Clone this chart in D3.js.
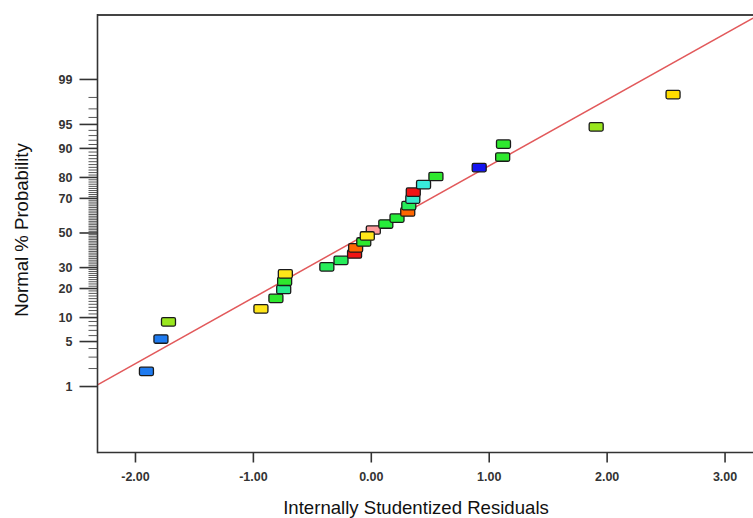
<!DOCTYPE html>
<html>
<head>
<meta charset="utf-8">
<script src="https://cdn.jsdelivr.net/npm/d3@7"></script>
<style>
  html, body { margin: 0; padding: 0; background: #fff; }
  svg { display: block; }
</style>
</head>
<body>
<svg id="chart" width="753" height="518"></svg>
<script>
// ---------- data ----------
const residuals = [-1.907, -1.784, -1.720, -0.936, -0.809, -0.743, -0.735, -0.729,
  -0.377, -0.257, -0.142, -0.133, -0.064, -0.034, 0.017, 0.123, 0.218, 0.309,
  0.318, 0.352, 0.356, 0.443, 0.548, 0.915, 1.114, 1.121, 1.907, 2.559];
const probabilities = [1.8, 5.4, 8.9, 12.5, 16.1, 19.6, 23.2, 26.8, 30.4, 33.9,
  37.5, 41.1, 44.6, 48.2, 51.8, 55.4, 58.9, 62.5, 66.1, 69.6, 73.2, 76.8, 80.4,
  83.9, 87.5, 91.1, 94.6, 98.2];
const pointColors = ["#1f7bf0", "#1f7bf0", "#99e61e", "#ffe61a", "#2ee82e", "#27eb8c",
  "#2ee82e", "#ffe61a", "#26ec5a", "#26ec5a", "#f01414", "#ff6600", "#2ee82e",
  "#ffe61a", "#ff9b9b", "#26ec3a", "#26ec3a", "#ff6600", "#26ec5a", "#38eacc",
  "#f01414", "#38eadc", "#2ee82e", "#1414f0", "#2ee82e", "#2ee82e", "#99e61e", "#ffdd00"];
const drawOrder = [0,1,2,3,4,5,6,7,8,9,10,11,12,14,13,15,16,17,18,19,20,21,22,23,24,25,26,27];
const xTicks = [-2, -1, 0, 1, 2, 3];
const yMajorTicks = [1, 5, 10, 20, 30, 50, 70, 80, 90, 95, 99];
const yMinorTicks = d3.range(1, 100).filter(v => !yMajorTicks.includes(v));
const xDomain = [-2.322, 3.237];
const zDomain = [-3.326, 3.303];
const fitIntercept = 0.02;
const fitSlope = 1.0;
const xTitle = "Internally Studentized Residuals";
const yTitle = "Normal % Probability";

// ---------- helpers ----------
function probit(p) {
  // Acklam's inverse normal CDF
  const a = [-3.969683028665376e+01, 2.209460984245205e+02, -2.759285104469687e+02,
    1.383577518672690e+02, -3.066479806614716e+01, 2.506628277459239e+00];
  const b = [-5.447609879822406e+01, 1.615858368580409e+02, -1.556989798598866e+02,
    6.680131188771972e+01, -1.328068155288572e+01];
  const c = [-7.784894002430293e-03, -3.223964580411365e-01, -2.400758277161838e+00,
    -2.549732539343734e+00, 4.374664141464968e+00, 2.938163982698783e+00];
  const d = [7.784695709041462e-03, 3.224671290700398e-01, 2.445134137142996e+00,
    3.754408661907416e+00];
  const pl = 0.02425, ph = 1 - pl;
  let q, r;
  if (p < pl) {
    q = Math.sqrt(-2 * Math.log(p));
    return (((((c[0]*q+c[1])*q+c[2])*q+c[3])*q+c[4])*q+c[5]) / ((((d[0]*q+d[1])*q+d[2])*q+d[3])*q+1);
  } else if (p <= ph) {
    q = p - 0.5; r = q * q;
    return (((((a[0]*r+a[1])*r+a[2])*r+a[3])*r+a[4])*r+a[5])*q / (((((b[0]*r+b[1])*r+b[2])*r+b[3])*r+b[4])*r+1);
  } else {
    q = Math.sqrt(-2 * Math.log(1 - p));
    return -(((((c[0]*q+c[1])*q+c[2])*q+c[3])*q+c[4])*q+c[5]) / ((((d[0]*q+d[1])*q+d[2])*q+d[3])*q+1);
  }
}

(function draw() {
  const pL = 97.5, pR = 753, pT = 15, pB = 452.5;
  const svg = d3.select("#chart");

  const x = d3.scaleLinear().domain(xDomain).range([pL, pR]);
  const z = d3.scaleLinear().domain(zDomain).range([pB, pT]);
  const y = p => z(probit(p / 100));
  const font = "Liberation Sans, Arial, sans-serif";
  const axisColor = "#333";

  svg.append("defs").append("clipPath").attr("id", "clip")
    .append("rect").attr("x", pL).attr("y", pT).attr("width", pR - pL).attr("height", pB - pT);

  // fit line
  const lineData = xDomain.map(v => [v, fitIntercept + fitSlope * v]);
  svg.append("path")
    .attr("clip-path", "url(#clip)")
    .attr("d", d3.line().x(d => x(d[0])).y(d => z(d[1]))(lineData))
    .attr("fill", "none")
    .attr("stroke", "#e2595b")
    .attr("stroke-width", 1.5);

  // frame lines
  svg.append("line").attr("x1", pL).attr("x2", pR).attr("y1", pT).attr("y2", pT)
    .attr("stroke", "#444").attr("stroke-width", 2);
  svg.append("line").attr("x1", pL).attr("x2", pR).attr("y1", pB).attr("y2", pB)
    .attr("stroke", axisColor).attr("stroke-width", 1.6);
  svg.append("line").attr("x1", pL).attr("x2", pL).attr("y1", pT - 1).attr("y2", pB + 0.8)
    .attr("stroke", axisColor).attr("stroke-width", 1.6);

  // y minor ticks
  svg.append("g").selectAll("line").data(yMinorTicks).join("line")
    .attr("x1", pL - 9).attr("x2", pL)
    .attr("y1", d => y(d)).attr("y2", d => y(d))
    .attr("stroke", "#444").attr("stroke-width", 0.9);

  // y major ticks + labels
  const yMaj = svg.append("g").selectAll("g").data(yMajorTicks).join("g")
    .attr("transform", d => `translate(0,${y(d)})`);
  yMaj.append("line").attr("x1", pL - 18).attr("x2", pL)
    .attr("stroke", axisColor).attr("stroke-width", 1.6);
  yMaj.append("text").attr("x", pL - 25).attr("dy", "0.36em")
    .attr("text-anchor", "end")
    .attr("font-family", font)
    .attr("font-size", 12.5).attr("font-weight", "bold").attr("fill", "#333")
    .text(d => d);

  // x ticks + labels
  const xg = svg.append("g").selectAll("g").data(xTicks).join("g")
    .attr("transform", d => `translate(${x(d)},0)`);
  xg.append("line").attr("y1", pB).attr("y2", pB + 10)
    .attr("stroke", axisColor).attr("stroke-width", 1.6);
  xg.append("text").attr("y", pB + 28.5)
    .attr("text-anchor", "middle")
    .attr("font-family", font)
    .attr("font-size", 12.5).attr("font-weight", "bold").attr("fill", "#333")
    .text(d => d3.format(".2f")(d).replace("\u2212", "-"));

  // points
  svg.append("g").selectAll("rect").data(drawOrder).join("rect")
    .attr("x", i => x(residuals[i]) - 7)
    .attr("y", i => y(probabilities[i]) - 4.2)
    .attr("width", 14).attr("height", 8.4)
    .attr("rx", 1.5)
    .attr("fill", i => pointColors[i])
    .attr("stroke", "#1a1a1a").attr("stroke-width", 1.3);

  // titles
  svg.append("text").attr("x", 416).attr("y", 514)
    .attr("text-anchor", "middle")
    .attr("font-family", font)
    .attr("font-size", 18.6).attr("fill", "#111")
    .text(xTitle);
  svg.append("text")
    .attr("transform", "translate(28,230) rotate(-90)")
    .attr("text-anchor", "middle")
    .attr("font-family", font)
    .attr("font-size", 18.6).attr("fill", "#111")
    .text(yTitle);
})();
</script>
</body>
</html>
